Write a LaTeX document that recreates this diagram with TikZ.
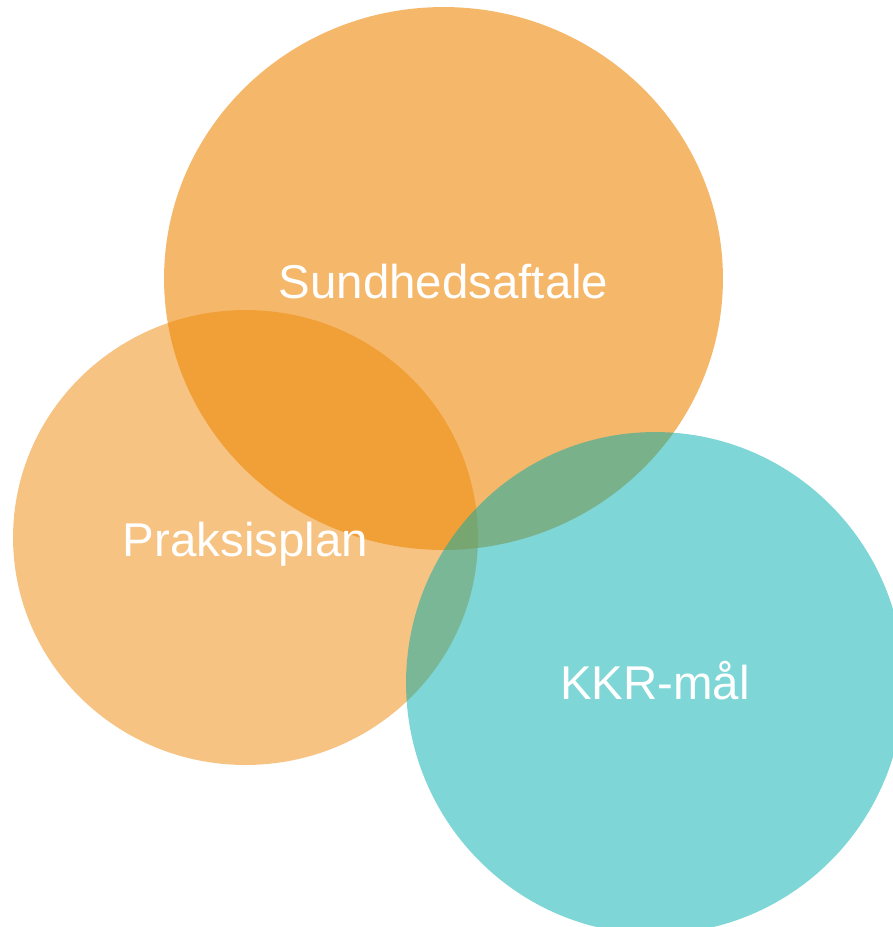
\documentclass[tikz,border=0pt]{standalone}
\usepackage{fontspec}
\setmainfont{Liberation Sans}
\usetikzlibrary{shapes.geometric}
\definecolor{orangeSH}{RGB}{238,135,5}
\definecolor{tealKKR}{RGB}{0,173,173}
\tikzset{
  blob/.style={draw=none, shape=ellipse, inner sep=0pt},
  txt/.style={text=white, font=\fontsize{27}{32}\selectfont, anchor=base, inner sep=0pt}
}
\begin{document}
\begin{tikzpicture}[x=0.02cm,y=-0.02cm]
\useasboundingbox (0,0) rectangle (893,927);
\clip (0,0) rectangle (893,927);
\node at (443.5,278.5) [blob, fill=orangeSH, fill opacity=0.6, minimum width=11.18cm, minimum height=10.86cm](S){};
\node at (245.5,537.5) [blob, fill=orangeSH, fill opacity=0.5, minimum width=9.3cm, minimum height=9.1cm](P){};
\node at (655,683) [blob, fill=tealKKR, fill opacity=0.5, minimum width=9.96cm, minimum height=10.04cm](K){};
\node at (443.5,298.5) [txt](Stxt){Sundhedsaftale};
\node at (245.5,556) [txt](Ptxt){Praksisplan};
\node at (655,699) [txt](Ktxt){KKR-mål};
\end{tikzpicture}
\end{document}
